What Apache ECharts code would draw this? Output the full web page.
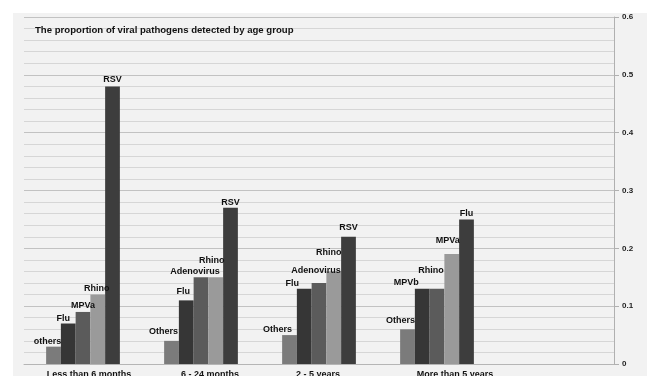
<!DOCTYPE html>
<html>
<head>
<meta charset="utf-8">
<script src="https://cdn.jsdelivr.net/npm/echarts@6/dist/echarts.min.js"></script>
<style>
  html, body { margin: 0; padding: 0; background: #ffffff; }
  #chart { width: 647px; height: 376px; }
</style>
</head>
<body>
<div id="chart"></div>
<script>
// Age groups along the x axis (the last slot is left empty)
const categories = ['Less than 6 months', '6 - 24 months', '2 - 5 years', 'More than 5 years', ''];

// Pathogens and their proportions, in bar order within each age group
const lessThan6mNames  = ['others', 'Flu', 'MPVa', 'Rhino', 'RSV'];
const lessThan6mValues = [0.03, 0.07, 0.09, 0.12, 0.48];

const m6to24Names  = ['Others', 'Flu', 'Adenovirus', 'Rhino', 'RSV'];
const m6to24Values = [0.04, 0.11, 0.15, 0.15, 0.27];

const y2to5Names  = ['Others', 'Flu', 'Adenovirus', 'Rhino', 'RSV'];
const y2to5Values = [0.05, 0.13, 0.14, 0.16, 0.22];

const over5yNames  = ['Others', 'MPVb', 'Rhino', 'MPVa', 'Flu'];
const over5yValues = [0.06, 0.13, 0.13, 0.19, 0.25];

// Y axis tick labels
const yTicks = [0, 0.1, 0.2, 0.3, 0.4, 0.5, 0.6];

const groupNames  = [lessThan6mNames, m6to24Names, y2to5Names, over5yNames];
const groupValues = [lessThan6mValues, m6to24Values, y2to5Values, over5yValues];

// One grey shade per bar position
const barColors = ['#7b7b7b', '#363636', '#5b5b5b', '#9a9a9a', '#3d3d3d'];

// Hand-placed nudges [dx, dy] for the bar labels so neighbours don't collide
const labelNudges = [
  [[-6, 0], [-5, 0], [0, -1], [-1, -1], [0, -1]],
  [[-8, -4], [-3, -3], [-6, 0], [-4, -11], [0, 0]],
  [[-12, 0], [-12, 0], [-3, -7], [-5, -13], [0, -4]],
  [[-7, -3], [-16, -1], [-6, -13], [-4, -8], [0, 0]]
];

// Small horizontal nudges for the category labels
const axisLabelShift = [6, 9, -1, 18, 0];

const series = barColors.map((color, pos) => ({
  type: 'bar',
  barGap: '0%',
  barCategoryGap: '37.5%',
  itemStyle: { color: color },
  data: groupValues.map((vals, g) => ({
    value: vals[pos],
    pathogen: groupNames[g][pos],
    label: { offset: labelNudges[g][pos] }
  })).concat([null]),
  label: {
    show: true,
    position: 'top',
    distance: 1,
    fontFamily: 'Liberation Sans',
    fontWeight: 'bold',
    fontSize: 9,
    color: '#111',
    formatter: p => p.data ? p.data.pathogen : ''
  }
}));

const richShift = {};
axisLabelShift.forEach((s, i) => {
  richShift['c' + i] = {
    fontFamily: 'Liberation Sans', fontWeight: 'bold', fontSize: 9, color: '#111',
    padding: s >= 0 ? [0, 0, 0, 2 * s] : [0, -2 * s, 0, 0]
  };
});

const chart = echarts.init(document.getElementById('chart'), null, { renderer: 'canvas' });
chart.setOption({
  animation: false,
  backgroundColor: '#ffffff',
  graphic: [
    { type: 'rect', z: -10, silent: true, shape: { x: 13, y: 13, width: 640, height: 370 }, style: { fill: '#f2f2f2' } },
    { type: 'text', left: 35, top: 25, z: 10, style: {
        text: 'The proportion of viral pathogens detected by age group',
        font: 'bold 9.6px "Liberation Sans"', fill: '#111' } }
  ],
  grid: { left: 24, right: 33, top: 17, bottom: 12, containLabel: false, outerBoundsMode: 'none' },
  xAxis: {
    type: 'category',
    data: categories,
    axisLine: { show: true, lineStyle: { color: '#b5b5b5', width: 1 } },
    axisTick: { show: false },
    axisLabel: {
      margin: 6, interval: 0,
      fontFamily: 'Liberation Sans', fontWeight: 'bold', fontSize: 9, color: '#111',
      formatter: (v, i) => v ? '{c' + i + '|' + v + '}' : '',
      rich: richShift
    }
  },
  yAxis: {
    type: 'value',
    position: 'right',
    min: 0, max: 0.6, interval: 0.1,
    axisLine: { show: true, lineStyle: { color: '#b0b0b0' } },
    axisTick: { show: true, inside: false, length: 5, lineStyle: { color: '#b0b0b0' } },
    axisLabel: {
      margin: 8,
      fontFamily: 'Liberation Sans', fontWeight: 'bold', fontSize: 8, color: '#222',
      formatter: v => {
        const t = yTicks.find(x => Math.abs(x - v) < 1e-9);
        return t === undefined ? '' : String(t);
      }
    },
    splitLine: { show: true, lineStyle: { color: '#c2c2c2', width: 1 } },
    minorTick: { show: false, splitNumber: 5 },
    minorSplitLine: { show: true, lineStyle: { color: '#d6d6d6', width: 1 } }
  },
  series: series
});
</script>
</body>
</html>
